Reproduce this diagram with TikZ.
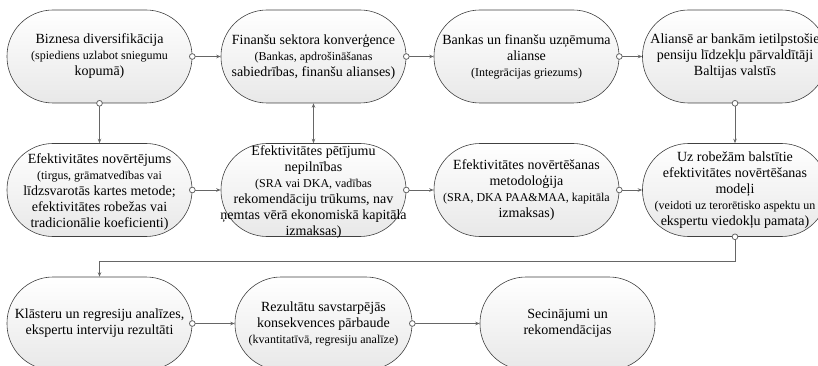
\documentclass[tikz,border=0pt]{standalone}
\usepackage{fontspec}
\setmainfont{Liberation Serif}
\usetikzlibrary{arrows.meta}
\newcommand\subfnt{\fontsize{12}{14}\selectfont}
\tikzset{
  box/.style={draw=black!75, line width=0.6pt, rounded corners=46pt,
    minimum width=185pt, minimum height=93pt, inner sep=0pt,
    top color=white, bottom color=black!9},
  txt/.style={align=center, inner sep=0pt, font=\fontsize{14}{16}\selectfont},
  conn/.style={draw=black!60, line width=0.8pt,
    {Circle[length=6.5pt,width=6.5pt,fill=white]}-{Stealth[length=4.5pt,width=3.5pt]},
    shorten <=-3.25pt},
  link/.style={draw=black!60, line width=0.8pt,
    {Stealth[length=4.5pt,width=3.5pt]}-{Stealth[length=4.5pt,width=3.5pt]}}
}
\begin{document}
\begin{tikzpicture}[x=1pt,y=-1pt]
\useasboundingbox (0,0) rectangle (818,366);
% row 1
\node[box] (b1) at (99.5,56.5) {};
\node[box] (b2) at (313.5,56.5) {};
\node[box] (b3) at (526.5,56.5) {};
\node[box] (b4) at (735,56.5) {};
% row 2
\node[box] (b5) at (99.5,190) {};
\node[box] (b6) at (313.5,190) {};
\node[box] (b7) at (526.5,190) {};
\node[box] (b8) at (735,190) {};
% row 3
\node[box] (b9) at (99.5,323.5) {};
\node[box, minimum width=177pt] (b10) at (323.5,323.5) {};
\node[box, minimum width=175pt] (b11) at (567.5,323.5) {};
% texts
\node[txt] (t1) at (b1) {Biznesa diversifikācija\\\subfnt (spiediens uzlabot sniegumu\\kopumā)};
\node[txt] (t2) at (b2) {Finanšu sektora konverģence\\\subfnt (Bankas, apdrošināšanas\\sabiedrības, finanšu alianses)};
\node[txt] (t3) at (b3) {Bankas un finanšu uzņēmuma\\alianse\\\subfnt (Integrācijas griezums)};
\node[txt] (t4) at (b4) {Aliansē ar bankām ietilpstošie\\pensiju līdzekļu pārvaldītāji\\Baltijas valstīs};
\node[txt] (t5) at ([yshift=-2pt]b5.center) {Efektivitātes novērtējums\\\subfnt (tirgus, grāmatvedības vai\\līdzsvarotās kartes metode;\\efektivitātes robežas vai\\tradicionālie koeficienti)};
\node[txt] (t6) at ([yshift=-2pt]b6.center) {Efektivitātes pētījumu\\nepilnības\\\subfnt (SRA vai DKA, vadības\\rekomendāciju trūkums, nav\\ņemtas vērā ekonomiskā kapitāla\\izmaksas)};
\node[txt] (t7) at (b7) {Efektivitātes novērtēšanas\\metodoloģija\\\subfnt (SRA, DKA PAA\&MAA, kapitāla\\izmaksas)};
\node[txt] (t8) at (b8) {Uz robežām balstītie\\efektivitātes novērtēšanas\\modeļi\\\subfnt (veidoti uz terorētisko aspektu un\\ekspertu viedokļu pamata)};
\node[txt] (t9) at (b9) {Klāsteru un regresiju analīzes,\\ekspertu interviju rezultāti};
\node[txt] (t10) at (b10) {Rezultātu savstarpējās\\konsekvences pārbaude\\\subfnt (kvantitatīvā, regresiju analīze)};
\node[txt] (t11) at (b11) {Secinājumi un\\rekomendācijas};
% connectors
\draw[conn] (b1.east) -- (b2.west);
\draw[conn] (b2.east) -- (b3.west);
\draw[conn] (b3.east) -- (b4.west);
\draw[conn] (b1.south) -- (b5.north);
\draw[link] (b6.north) -- (b2.south);
\draw[conn] (b4.south) -- (b8.north);
\draw[conn] (b5.east) -- (b6.west);
\draw[conn] (b6.east) -- (b7.west);
\draw[conn] (b7.east) -- (b8.west);
\coordinate (c1) at ([yshift=-25pt]b8.south);
\draw[conn] (b8.south) -- (c1) -| (b9.north);
\draw[conn] (b9.east) -- (b10.west);
\draw[conn] (b10.east) -- (b11.west);
\end{tikzpicture}
\end{document}
